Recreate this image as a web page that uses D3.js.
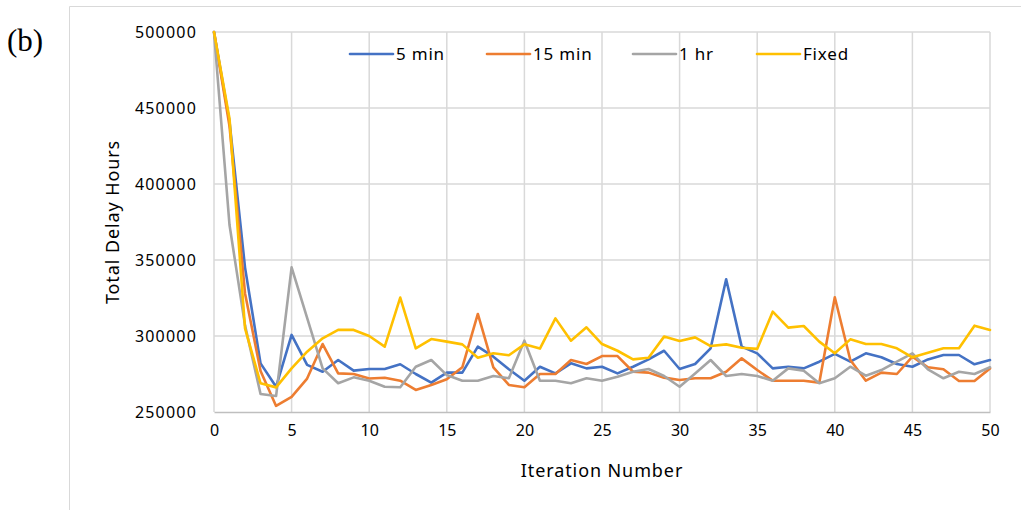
<!DOCTYPE html>
<html>
<head>
<meta charset="utf-8">
<script src="https://cdn.jsdelivr.net/npm/d3@7"></script>
<style>
  html, body { margin: 0; padding: 0; background: #fff; }
  svg { display: block; }
</style>
</head>
<body>
<svg id="chart" width="1021" height="510"></svg>
<script>
const iterations = d3.range(0, 51);
const seriesNames = ["5 min", "15 min", "1 hr", "Fixed"];
const min5 = [500000,441000,345000,282000,266600,300700,281000,276500,284200,277200,278300,278300,281400,275000,269300,275900,275900,293000,286400,278100,270600,279800,275400,282000,278700,279800,275400,279800,284600,290300,278300,281600,291900,337300,293000,288600,278700,279800,278700,283100,288200,283100,288600,286000,281600,279800,284600,287500,287500,281400,284200];
const min15 = [500000,438000,328000,277000,254000,260000,272000,294700,275400,275000,272000,272500,270600,264500,267800,271500,279400,314500,279400,267800,266300,275000,275000,284200,281600,286800,286800,276500,275900,272600,271000,272200,272200,276500,285300,277600,270600,270600,270600,269300,325500,284200,270600,275900,275000,286400,279400,278100,270400,270400,278700];
const hr1 = [500000,373000,307000,261800,260500,345200,312000,278700,268900,272800,270600,266600,266300,279800,284200,274300,270600,270600,273700,272200,296900,270600,270600,268900,272200,270600,273200,276500,278300,273700,266600,275400,284200,273700,275000,273700,270600,278700,277200,268900,272200,279800,273900,277600,283100,288600,278100,272200,276500,275000,279400];
const fixed = [500000,443000,305000,268900,266200,278700,289700,298500,304000,304000,300000,293000,325300,291900,298000,296300,294500,285700,288600,287300,294500,291700,311600,296900,305700,294700,290300,284600,285700,299600,296700,299100,293400,294500,292300,291500,316000,305500,306600,296300,288600,297800,294700,294700,291900,286000,289000,291900,291900,306800,304000];
const yTicks = [250000,300000,350000,400000,450000,500000];
const xTicks = [0,5,10,15,20,25,30,35,40,45,50];
const colors = ["#4472C4", "#ED7D31", "#A5A5A5", "#FFC000"];

const svg = d3.select("#chart");
const L = 214, R = 990, T = 32, B = 412;
const x = d3.scaleLinear().domain([0, 50]).range([L, R]);
const y = d3.scaleLinear().domain([250000, 500000]).range([B, T]);
const font = "'Noto Sans', 'Open Sans', sans-serif";

// outer frame
svg.append("path")
  .attr("d", `M69.5,512 V6.5 H1025`)
  .attr("fill", "none").attr("stroke", "#d9d9d9").attr("stroke-width", 1);

// "(b)" label
svg.append("text").attr("x", 7).attr("y", 51)
  .attr("font-family", "'Liberation Serif', 'Times New Roman', serif")
  .attr("font-size", 31).attr("fill", "#000").text("(b)");

// gridlines
const grid = svg.append("g");
grid.selectAll("line.h").data(yTicks.filter(d => d !== 250000)).join("line")
  .attr("x1", L).attr("x2", R).attr("y1", d => y(d)).attr("y2", d => y(d))
  .attr("stroke", "#d9d9d9").attr("stroke-width", 1.5);
grid.selectAll("line.v").data(xTicks).join("line")
  .attr("x1", d => x(d)).attr("x2", d => x(d)).attr("y1", T).attr("y2", B)
  .attr("stroke", "#d9d9d9").attr("stroke-width", 1.5);

// x axis
const xAxis = svg.append("g").attr("transform", `translate(0,${B})`)
  .call(d3.axisBottom(x).tickValues(xTicks).tickSize(0).tickPadding(13).tickFormat(d3.format("d")));
xAxis.select(".domain").attr("stroke", "#bfbfbf").attr("stroke-width", 1.5);
xAxis.selectAll("text").attr("font-family", font).attr("font-size", 16).attr("fill", "#000");

// y axis
const yAxis = svg.append("g").attr("transform", `translate(${L},0)`)
  .call(d3.axisLeft(y).tickValues(yTicks).tickSize(0).tickPadding(17).tickFormat(d3.format("d")));
yAxis.select(".domain").remove();
yAxis.selectAll("text").attr("font-family", font).attr("font-size", 16)
  .attr("letter-spacing", 1.2).attr("fill", "#000");

// axis titles
svg.append("text").attr("x", x(25)).attr("y", 477).attr("text-anchor", "middle")
  .attr("font-family", font).attr("font-size", 18).attr("letter-spacing", 0.9)
  .attr("fill", "#000").text("Iteration Number");
svg.append("text").attr("transform", `translate(119,${(T + B) / 2}) rotate(-90)`)
  .attr("text-anchor", "middle").attr("font-family", font).attr("font-size", 18)
  .attr("letter-spacing", 0.9).attr("fill", "#000").text("Total Delay Hours");

// lines
const series = [min5, min15, hr1, fixed];
const line = d3.line().x((d, i) => x(iterations[i])).y(d => y(d));
svg.append("g").selectAll("path").data(series).join("path")
  .attr("d", line).attr("fill", "none")
  .attr("stroke", (d, i) => colors[i]).attr("stroke-width", 2.6)
  .attr("stroke-linejoin", "round").attr("stroke-linecap", "round");

// legend
const legX = [350, 487, 633, 757];
const leg = svg.append("g");
seriesNames.forEach((name, i) => {
  leg.append("line").attr("x1", legX[i]).attr("x2", legX[i] + 43)
    .attr("y1", 54).attr("y2", 54).attr("stroke", colors[i]).attr("stroke-width", 2.6)
    .attr("stroke-linecap", "round");
  leg.append("text").attr("x", legX[i] + 46).attr("y", 54).attr("dy", "0.35em")
    .attr("font-family", font).attr("font-size", 17).attr("letter-spacing", 0.8)
    .attr("fill", "#000").text(name);
});
</script>
</body>
</html>
